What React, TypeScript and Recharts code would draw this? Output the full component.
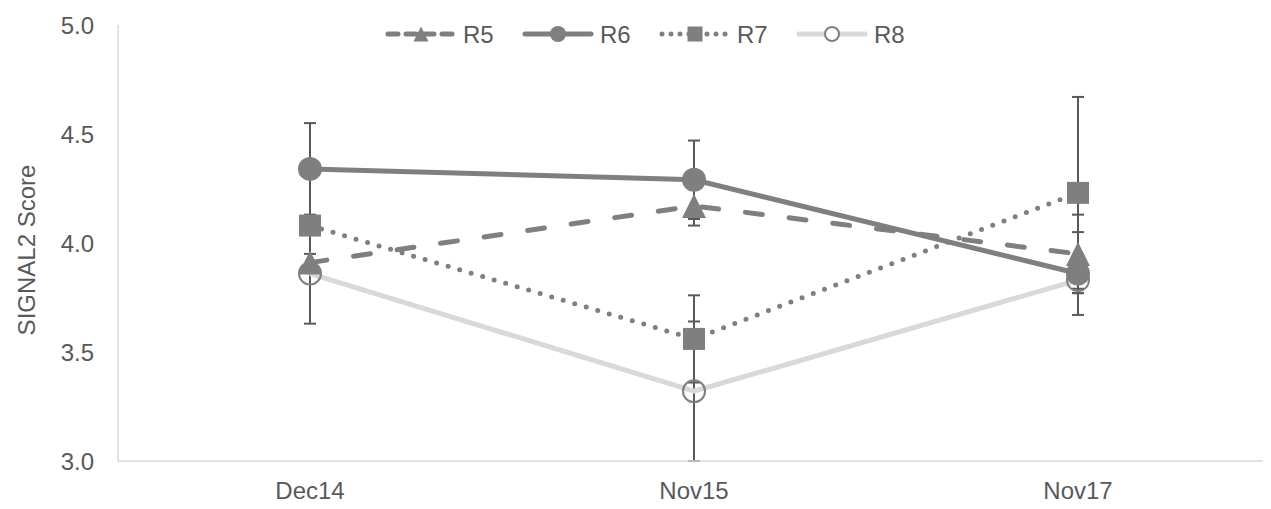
import React from "react"
import { LineChart, Line, XAxis, YAxis, Legend, ErrorBar } from "recharts"

const categories = ["Dec14", "Nov15", "Nov17"]
const r5 = [3.91, 4.17, 3.95]
const r5Err = [0.04, 0.09, 0.18]
const r6 = [4.34, 4.29, 3.86]
const r6Err = [0.21, 0.18, 0.19]
const r7 = [4.08, 3.56, 4.23]
const r7Err = [0.04, 0.2, 0.44]
const r8 = [3.86, 3.32, 3.83]
const r8Err = [0.23, 0.32, 0.06]
const yTicks = [3.0, 3.5, 4.0, 4.5, 5.0]

const data = categories.map((cat, i) => ({
  cat,
  r5: r5[i],
  r5Err: r5Err[i],
  r6: r6[i],
  r6Err: r6Err[i],
  r7: r7[i],
  r7Err: r7Err[i],
  r8: r8[i],
  r8Err: r8Err[i],
}))

const GRAY = "#7f7f7f"
const LIGHT = "#d9d9d9"
const TEXT = "#595959"
const FONT = '"Liberation Sans", Arial, sans-serif'
const FS = 24

const Triangle = (props: any) => {
  const { cx, cy, index, size = 24 } = props
  if (cx == null || cy == null) return null
  return (
    <path
      key={`tri-${index}`}
      d={`M${cx},${cy - size / 2} L${cx + size / 2},${cy + size / 2} L${cx - size / 2},${cy + size / 2} Z`}
      fill={GRAY}
    />
  )
}

const Square = (props: any) => {
  const { cx, cy, index, size = 22 } = props
  if (cx == null || cy == null) return null
  return <rect key={`sq-${index}`} x={cx - size / 2} y={cy - size / 2} width={size} height={size} fill={GRAY} />
}

const legendItems = [
  { name: "R5", stroke: GRAY, dash: "10 8", marker: "triangle" },
  { name: "R6", stroke: GRAY, dash: undefined, marker: "circle" },
  { name: "R7", stroke: GRAY, dash: "0 9", marker: "square" },
  { name: "R8", stroke: LIGHT, dash: undefined, marker: "hollow" },
]

// legend drawn as one svg, positioned over the plot top
const CustomLegend = () => (
  <svg width={540} height={36} style={{ display: "block", position: "absolute", left: 374 }}>
    {legendItems.map((it, i) => {
      const x0 = i * 137 + 4
      const y = 18
      return (
        <g key={it.name}>
          <line
            x1={x0 + 2}
            y1={y}
            x2={x0 + 68}
            y2={y}
            stroke={it.stroke}
            strokeWidth={5}
            strokeDasharray={it.dash}
            strokeLinecap="round"
          />
          {it.marker === "triangle" && <Triangle cx={x0 + 35} cy={y} size={15} />}
          {it.marker === "circle" && <circle cx={x0 + 35} cy={y} r={8} fill={GRAY} />}
          {it.marker === "square" && <Square cx={x0 + 35} cy={y} size={15} />}
          {it.marker === "hollow" && <circle cx={x0 + 35} cy={y} r={7} fill="#fff" stroke={GRAY} strokeWidth={2} />}
          <text x={x0 + 77} y={y + 8.5} fontSize={FS} fill={TEXT} fontFamily={FONT}>
            {it.name}
          </text>
        </g>
      )
    })}
  </svg>
)

const YLabel = () => (
  <text
    x={18}
    y={242}
    transform="rotate(-90, 18, 242)"
    textAnchor="middle"
    dominantBaseline="central"
    fontSize={FS}
    fill={TEXT}
    fontFamily={FONT}
  >
    SIGNAL2 Score
  </text>
)

export default function App() {
  return (
    <div style={{ width: 1263, height: 501, fontFamily: FONT }}>
      <LineChart width={1263} height={501} data={data} margin={{ top: 17, right: 1, left: 0, bottom: 0 }}>
        <XAxis
          dataKey="cat"
          height={48}
          padding={{ left: 192, right: 192 }}
          axisLine={{ stroke: LIGHT, strokeWidth: 1.5 }}
          tickLine={false}
          tickSize={0}
          tickMargin={21}
          tick={{ fontSize: FS, fill: TEXT, fontFamily: FONT }}
        />
        <YAxis
          width={110}
          domain={[3, 5]}
          ticks={yTicks}
          allowDataOverflow
          tickFormatter={(v: number) => v.toFixed(1)}
          axisLine={{ stroke: LIGHT, strokeWidth: 1.5 }}
          tickLine={false}
          tickSize={0}
          tickMargin={24}
          tick={{ fontSize: FS, fill: TEXT, fontFamily: FONT }}
          label={<YLabel />}
        />
        <Legend
          layout="horizontal"
          verticalAlign="middle"
          align="center"
          content={<CustomLegend />}
          wrapperStyle={{ top: 8, left: 0, width: 1263, height: 36 }}
        />
        <Line
          dataKey="r5"
          stroke={GRAY}
          strokeWidth={5}
          strokeDasharray="17 27"
          strokeLinecap="round"
          dot={(p: any) => <Triangle {...p} />}
          activeDot={false}
          isAnimationActive={false}
        >
          <ErrorBar dataKey="r5Err" width={6} strokeWidth={2} stroke={TEXT} direction="y" />
        </Line>
        <Line
          dataKey="r6"
          stroke={GRAY}
          strokeWidth={5}
          dot={{ r: 12, fill: GRAY, stroke: "none" }}
          activeDot={false}
          isAnimationActive={false}
        >
          <ErrorBar dataKey="r6Err" width={6} strokeWidth={2} stroke={TEXT} direction="y" />
        </Line>
        <Line
          dataKey="r7"
          stroke={GRAY}
          strokeWidth={5}
          strokeDasharray="0 12"
          strokeLinecap="round"
          dot={(p: any) => <Square {...p} />}
          activeDot={false}
          isAnimationActive={false}
        >
          <ErrorBar dataKey="r7Err" width={6} strokeWidth={2} stroke={TEXT} direction="y" />
        </Line>
        <Line
          dataKey="r8"
          stroke={LIGHT}
          strokeWidth={5}
          dot={{ r: 11, fill: "none", stroke: GRAY, strokeWidth: 2 }}
          activeDot={false}
          isAnimationActive={false}
        >
          <ErrorBar dataKey="r8Err" width={6} strokeWidth={2} stroke={TEXT} direction="y" />
        </Line>
      </LineChart>
    </div>
  )
}
